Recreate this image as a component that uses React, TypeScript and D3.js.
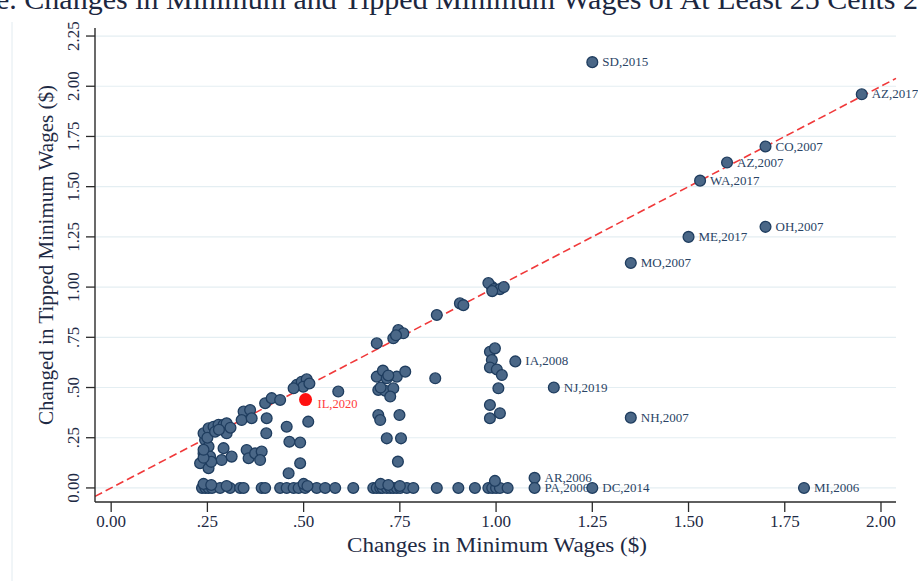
import * as d3 from "d3";

// tick values and their printed labels (Stata style, no leading zero)
const xTicks = [0, 0.25, 0.5, 0.75, 1, 1.25, 1.5, 1.75, 2];
const xTickLabels = ["0.00", ".25", ".50", ".75", "1.00", "1.25", "1.50", "1.75", "2.00"];
const yTicks = [0, 0.25, 0.5, 0.75, 1, 1.25, 1.5, 1.75, 2, 2.25];
const yTickLabels = ["0.00", ".25", ".50", ".75", "1.00", "1.25", "1.50", "1.75", "2.00", "2.25"];

// unlabeled state-year changes: minimum wage change, tipped minimum change
const minChange = [
  0.231, 0.244, 0.24, 0.253, 0.266, 0.279, 0.292, 0.3, 0.3, 0.253, 0.24, 0.257, 0.253, 0.292, 0.287, 0.313,
  0.25, 0.26, 0.24, 0.27, 0.28, 0.31, 0.24,
  0.344, 0.361, 0.339, 0.365, 0.352, 0.357, 0.374, 0.391, 0.387,
  0.4, 0.417, 0.439, 0.404, 0.403, 0.456, 0.463, 0.491, 0.491, 0.461, 0.512,
  0.482, 0.495, 0.508, 0.499, 0.515, 0.474, 0.59,
  0.69, 0.733, 0.746, 0.759, 0.74,
  0.69, 0.706, 0.716, 0.694, 0.712, 0.733, 0.742, 0.764, 0.725, 0.694, 0.699, 0.749, 0.716, 0.753, 0.745, 0.7, 0.72,
  0.842, 0.846, 0.906, 0.915, 0.989, 0.98, 0.995, 1.01, 1.02, 0.99,
  0.984, 0.997, 0.989, 0.984, 1.002, 1.015, 1.006, 0.984, 1.01, 0.984,
  // zero row
  0.236, 0.245, 0.253, 0.262, 0.283, 0.309, 0.335, 0.344, 0.391, 0.4, 0.439, 0.456, 0.474, 0.487, 0.504, 0.534,
  0.556, 0.582, 0.629, 0.681, 0.69, 0.699, 0.705, 0.716, 0.725, 0.733, 0.742, 0.751, 0.768, 0.785,
  0.846, 0.902, 0.945, 0.98, 0.99, 1.0, 1.01, 1.03,
  0.24, 0.26, 0.3, 0.5, 0.51, 0.7, 0.72, 0.75, 0.997,
];
const tipChange = [
  0.123, 0.239, 0.272, 0.297, 0.305, 0.314, 0.314, 0.322, 0.272, 0.206, 0.172, 0.156, 0.098, 0.198, 0.139, 0.156,
  0.25, 0.13, 0.15, 0.28, 0.29, 0.3, 0.19,
  0.38, 0.388, 0.338, 0.347, 0.189, 0.148, 0.172, 0.181, 0.139,
  0.422, 0.447, 0.438, 0.347, 0.272, 0.305, 0.23, 0.226, 0.123, 0.073, 0.33,
  0.513, 0.529, 0.541, 0.504, 0.52, 0.496, 0.48,
  0.72, 0.745, 0.786, 0.77, 0.76,
  0.554, 0.584, 0.546, 0.488, 0.484, 0.496, 0.554, 0.579, 0.455, 0.363, 0.338, 0.363, 0.247, 0.247, 0.131, 0.5, 0.56,
  0.546, 0.861, 0.919, 0.91, 1.002, 1.02, 0.99, 0.99, 1.0, 0.98,
  0.678, 0.695, 0.637, 0.6, 0.59, 0.562, 0.496, 0.413, 0.372, 0.347,
  0, 0, 0, 0, 0, 0, 0, 0, 0, 0, 0, 0, 0, 0, 0, 0,
  0, 0, 0, 0, 0, 0, 0, 0, 0, 0, 0, 0, 0, 0,
  0, 0, 0, 0, 0, 0, 0, 0,
  0.02, 0.015, 0.01, 0.02, 0.01, 0.02, 0.015, 0.01, 0.035,
];

// labeled outliers
const labelNames = [
  "SD,2015", "AZ,2017", "CO,2007", "AZ,2007", "WA,2017", "OH,2007", "ME,2017", "MO,2007",
  "IA,2008", "NJ,2019", "NH,2007", "AR,2006", "PA,2006", "DC,2014", "MI,2006",
];
const labelMin = [1.25, 1.95, 1.7, 1.6, 1.53, 1.7, 1.5, 1.35, 1.05, 1.15, 1.35, 1.1, 1.1, 1.25, 1.8];
const labelTip = [2.12, 1.96, 1.7, 1.62, 1.53, 1.3, 1.25, 1.12, 0.63, 0.5, 0.35, 0.05, 0.0, 0.0, 0.0];

// highlighted state
const hiName = "IL,2020";
const hiMin = 0.505;
const hiTip = 0.44;

const serif = "'Liberation Serif', 'Times New Roman', serif";
const dotFill = "#4a6787";
const dotStroke = "#1f3d5f";
const textNavy = "#2a4465";

export default function App() {
  const width = 918;
  const height = 581;

  const x = d3.scaleLinear().domain([-0.042, 2.039]).range([95, 896]);
  const y = d3.scaleLinear().domain([-0.07, 2.29]).range([502, 28]);

  const [x0, x1] = x.range();
  const [y0, y1] = y.range();

  const diag = d3
    .line<number>()
    .x((d) => x(d))
    .y((d) => y(d))(x.domain());

  return (
    <svg
      width={width}
      height={height}
      style={{ position: "absolute", left: 0, top: 0, background: "#fff" }}
      fontFamily={serif}
    >
      {/* title, cut at the top of the page */}
      <text x={-4} y={9} fontSize={30} fill="#1c2740">
        e. Changes in Minimum and Tipped Minimum Wages of At Least 25 Cents 2
      </text>

      {/* faint outer frame */}
      <line x1={12} x2={12} y1={22} y2={height} stroke="#e2ebf0" />

      {/* grid */}
      {yTicks.map((t) => (
        <line key={"g" + t} x1={x0} x2={x1} y1={y(t)} y2={y(t)} stroke="#e4eef2" strokeWidth={1.2} />
      ))}

      {/* diagonal 45 degree line */}
      <path d={diag ?? ""} stroke="#f0393a" strokeWidth={1.6} strokeDasharray="8 4" fill="none" />

      {/* points */}
      {minChange.map((m, i) => (
        <circle key={"p" + i} cx={x(m)} cy={y(tipChange[i])} r={5.4} fill={dotFill} stroke={dotStroke} strokeWidth={1.3} />
      ))}
      {labelNames.map((n, i) => (
        <g key={n}>
          <circle cx={x(labelMin[i])} cy={y(labelTip[i])} r={5.4} fill={dotFill} stroke={dotStroke} strokeWidth={1.3} />
          <text x={x(labelMin[i]) + 10} y={y(labelTip[i]) + 4} fontSize={13} fill={textNavy}>
            {n}
          </text>
        </g>
      ))}
      <circle cx={x(hiMin)} cy={y(hiTip)} r={6.5} fill="#ff1010" />
      <text x={x(hiMin) + 12} y={y(hiTip) + 8} fontSize={12.5} fill="#ff3b3b">
        {hiName}
      </text>

      {/* axes */}
      <line x1={x0} x2={x0} y1={y1} y2={y0} stroke="#2a2a2a" strokeWidth={1.4} />
      <line x1={x0} x2={x1} y1={y0} y2={y0} stroke="#2a2a2a" strokeWidth={1.4} />
      {yTicks.map((t, i) => (
        <g key={"y" + t}>
          <line x1={x0 - 9} x2={x0} y1={y(t)} y2={y(t)} stroke="#2a2a2a" strokeWidth={1.3} />
          <text
            transform={`translate(79,${y(t)}) rotate(-90)`}
            textAnchor="middle"
            fontSize={17}
            fill="#1e2a44"
          >
            {yTickLabels[i]}
          </text>
        </g>
      ))}
      {xTicks.map((t, i) => (
        <g key={"x" + t}>
          <line x1={x(t)} x2={x(t)} y1={y0} y2={y0 + 10} stroke="#2a2a2a" strokeWidth={1.3} />
          <text x={x(t)} y={527} textAnchor="middle" fontSize={17} fill="#1e2a44">
            {xTickLabels[i]}
          </text>
        </g>
      ))}

      {/* axis titles */}
      <text x={497} y={552} textAnchor="middle" fontSize={20} fill="#1e2a44" textLength={300} lengthAdjust="spacingAndGlyphs">
        Changes in Minimum Wages ($)
      </text>
      <text
        transform={`translate(53,255) rotate(-90)`}
        textAnchor="middle"
        fontSize={20}
        fill="#1e2a44"
        textLength={340}
        lengthAdjust="spacingAndGlyphs"
      >
        Changed in Tipped Minimum Wages ($)
      </text>
    </svg>
  );
}
